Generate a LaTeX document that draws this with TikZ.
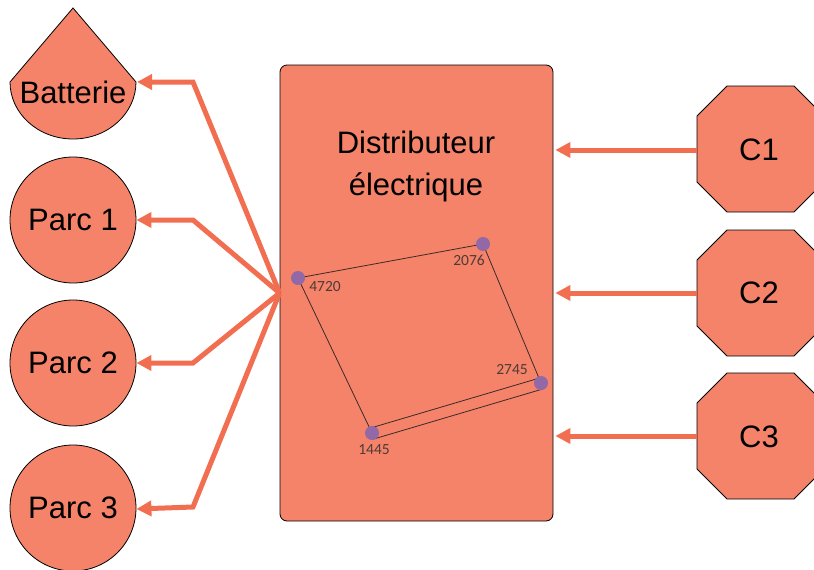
\documentclass[tikz,border=0pt]{standalone}
\usepackage{fontspec}
\setmainfont{Liberation Sans}
\newfontfamily\numfont{Carlito}
\usetikzlibrary{arrows.meta}
\definecolor{boxfill}{HTML}{F4836A}
\definecolor{arrowc}{HTML}{F26E51}
\definecolor{dotc}{HTML}{9368A6}
\definecolor{linec}{HTML}{3C2A28}
\definecolor{numc}{HTML}{4F3B36}
\begin{document}
\begin{tikzpicture}[x=1pt,y=-1pt,
  shapeS/.style={draw=black, line width=0.8pt, fill=boxfill},
  conn/.style={draw=arrowc, line width=5pt, -{Triangle[length=15pt,width=15pt]}},
  bigtext/.style={font=\fontsize{31}{36}\selectfont, text=black, inner sep=0pt},
  dotS/.style={circle, fill=dotc, minimum size=14pt, inner sep=0pt},
  num/.style={font=\numfont\fontsize{15.5}{17}\selectfont, text=numc, inner sep=0pt},
  quad/.style={draw=linec, line width=0.8pt},
  parc/.style={shapeS, circle, minimum size=126pt, inner sep=0pt, font=\fontsize{31}{36}\selectfont},
  octo/.pic={\draw[shapeS] (-63.5,-33) -- (-33.5,-63) -- (33.5,-63) -- (63.5,-33) -- (63.5,33) -- (33.5,63) -- (-33.5,63) -- (-63.5,33) -- cycle;}]
\useasboundingbox (0,0) rectangle (814,570);
\clip (0,0) rectangle (814,570);

% left shapes
\draw[shapeS] (10,82) -- (73,8) -- (136,82) arc[start angle=0,end angle=-180,x radius=63pt,y radius=57pt] -- cycle;
\node[bigtext] (bat) at (73,92) {Batterie};
\coordinate (bate) at (137,82);
\node[parc] (p1) at (73,220) {Parc 1};
\node[parc] (p2) at (73,363) {Parc 2};
\node[parc] (p3) at (73,508) {Parc 3};

% central box
\node[shapeS, rounded corners=7pt, minimum width=273pt, minimum height=456pt, inner sep=0pt] (dist) at (416.5,293) {};
\node[bigtext, align=center, font=\fontsize{31}{42}\selectfont] (dtitle) at (416,166) {Distributeur\\électrique};

% right octagons
\pic at (760.5,149) {octo};
\pic at (760.5,293) {octo};
\pic at (760.5,436) {octo};
\node[bigtext] (c1) at (759,150) {C1};
\node[bigtext] (c2) at (759,293) {C2};
\node[bigtext] (c3) at (759,437) {C3};
\coordinate (c1w) at (697,150);
\coordinate (c2w) at (697,293);
\coordinate (c3w) at (697,436);

% connectors
\draw[conn] (c1w) -- ([xshift=2pt]dist.east |- c1w);
\draw[conn] (c2w) -- ([xshift=2pt]dist.east |- c2w);
\draw[conn] (c3w) -- ([xshift=2pt]dist.east |- c3w);
\draw[conn] (dist.west) -- (193,82) -- (bate);
\draw[conn] (dist.west) -- (193,220) -- (p1.east);
\draw[conn] (dist.west) -- (193,363) -- (p2.east);
\draw[conn] (dist.west) -- (193,507) -- ([yshift=-1pt]p3.east);

% quadrilateral
\coordinate (q1) at (298,278);
\coordinate (q2) at (483,244);
\coordinate (q3) at (541,383);
\coordinate (q4) at (372,433);
\draw[quad] (q1) -- (q2) -- (q3);
\draw[quad] (q1) -- (q4);
\draw[quad] ([shift={(-1.4,-5)}]q4) -- ([shift={(-1.4,-5)}]q3);
\draw[quad] ([shift={(1.7,6)}]q4) -- ([shift={(1.7,6)}]q3);
\node[dotS] (d1) at (q1) {};
\node[dotS] (d2) at (q2) {};
\node[dotS] (d3) at (q3) {};
\node[dotS] (d4) at (q4) {};
\node[num] (n1) at (325,287) {4720};
\node[num] (n2) at (469,260) {2076};
\node[num] (n3) at (512,370) {2745};
\node[num] (n4) at (374,450) {1445};
\end{tikzpicture}
\end{document}
